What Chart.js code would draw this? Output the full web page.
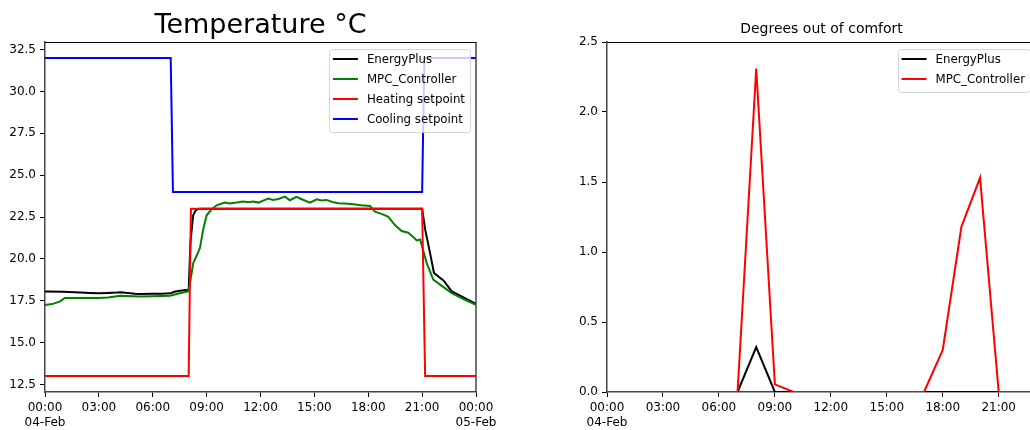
<!DOCTYPE html>
<html lang="en">

<head>
    <meta charset="UTF-8">
    <title>Temperature and comfort</title>
    <script src="https://cdn.jsdelivr.net/npm/chart.js"></script>

    <style>
        html, body {
            margin: 0;
            padding: 0;
            background-color: #ffffff;
        }

        body {
            position: relative;
            width: 1030px;
            height: 430px;
            overflow: hidden;
        }

        canvas {
            position: absolute;
            top: 0;
        }

        #temperatura { left: 0; }
        #conforto { left: 560px; }
    </style>
</head>

<body>
    <canvas id="temperatura" width="500" height="430"></canvas>
    <canvas id="conforto" width="490" height="430"></canvas>
</body>

</html>

<script>
    // left plot, hours counted from 00:00 04-Feb
    var energyPlusHours = [0, 1, 2, 2.5, 3, 3.5, 4, 4.2, 4.5, 5, 5.3, 6, 6.5, 7, 7.2, 7.5, 8.0, 8.1, 8.25, 8.4, 8.6, 9,
        21.0, 21.17, 21.44, 21.66, 22.2, 22.65, 23.3, 24];
    var energyPlusTemp = [18.05, 18.03, 17.99, 17.96, 17.94, 17.96, 17.99, 18.01, 17.97, 17.92, 17.9, 17.91, 17.92, 17.94, 18.04, 18.1, 18.16, 21.0, 22.6, 22.92, 23.0, 23.0,
        23.0, 21.76, 20.36, 19.16, 18.7, 18.06, 17.7, 17.32];

    var mpcHours = [0, 0.4, 0.84, 1.1, 2, 3, 3.5, 4.2, 5.3, 6, 6.96, 7.5, 7.96, 8.04, 8.26, 8.45, 8.63, 8.81, 9.0, 9.28, 9.56,
        10.0, 10.3, 10.67, 11.04, 11.3, 11.6, 11.88, 12.15, 12.43, 12.7, 13.0, 13.36, 13.64, 14.0, 14.3, 14.75, 15.13, 15.4, 15.68,
        16.0, 16.33, 16.7, 17.17, 17.6, 18.1, 18.37, 18.7, 19.1, 19.5, 19.86, 20.23, 20.5, 20.7, 20.88, 20.97,
        21.25, 21.62, 22.0, 22.65, 23.3, 24];
    var mpcTemp = [17.25, 17.3, 17.46, 17.66, 17.66, 17.67, 17.7, 17.79, 17.75, 17.77, 17.8, 17.95, 18.06, 18.35, 19.76, 20.2, 20.66, 21.76, 22.6, 22.96, 23.2,
        23.36, 23.3, 23.36, 23.43, 23.38, 23.42, 23.36, 23.48, 23.6, 23.52, 23.58, 23.72, 23.5, 23.7, 23.56, 23.36, 23.56, 23.48, 23.52,
        23.4, 23.32, 23.3, 23.26, 23.2, 23.16, 22.82, 22.7, 22.52, 22.0, 21.66, 21.56, 21.3, 21.1, 21.16, 20.86,
        19.76, 18.76, 18.46, 17.96, 17.6, 17.26];

    var heatingHours = [0, 8, 8.125, 21, 21.167, 24];
    var heatingSetpoint = [13, 13, 23, 23, 13, 13];
    var coolingHours = [0, 7, 7.125, 21, 21.125, 24];
    var coolingSetpoint = [32, 32, 24, 24, 32, 32];

    // right plot, one value per hour
    var comfortHours = [0, 1, 2, 3, 4, 5, 6, 7, 8, 9, 10, 11, 12, 13, 14, 15, 16, 17, 18, 19, 20, 21, 22, 23];
    var energyPlusOut = [0, 0, 0, 0, 0, 0, 0, 0, 0.32, 0, 0, 0, 0, 0, 0, 0, 0, 0, 0, 0, 0, 0, 0, 0];
    var mpcOut = [0, 0, 0, 0, 0, 0, 0, 0, 2.31, 0.055, 0, 0, 0, 0, 0, 0, 0, 0, 0.3, 1.18, 1.53, 0, 0, 0];

    var hourTicks = [0, 3, 6, 9, 12, 15, 18, 21, 24];
    var dayLabels = { 0: '04-Feb', 24: '05-Feb' };
    var tempTicks = [12.5, 15, 17.5, 20, 22.5, 25, 27.5, 30, 32.5];
    var outTicks = [0, 0.5, 1, 1.5, 2, 2.5];

    var fonte = 'DejaVu Sans';

    function pontos(xs, ys) {
        return xs.map((x, i) => ({ x: x, y: ys[i] }));
    }

    function rotuloHora(v) {
        var h = ('0' + (v % 24)).slice(-2) + ':00';
        return dayLabels[v] ? [h, dayLabels[v]] : h;
    }

    function serie(label, cor, dados, ordem) {
        return {
            label: label,
            data: dados,
            borderColor: cor,
            borderWidth: 2,
            pointRadius: 0,
            tension: 0,
            fill: false,
            order: ordem
        };
    }

    // title, top/right spines and a matplotlib-like legend inside the axes
    var moldura = {
        id: 'moldura',
        afterDraw(chart, args, opts) {
            var ctx = chart.ctx, a = chart.chartArea;
            ctx.save();

            ctx.strokeStyle = '#000';
            ctx.lineWidth = 1;
            ctx.beginPath();
            ctx.moveTo(a.left, Math.round(a.top) + 0.5);
            ctx.lineTo(a.right + 1, Math.round(a.top) + 0.5);
            ctx.stroke();
            ctx.strokeStyle = '#444';
            ctx.lineWidth = 1.5;
            ctx.beginPath();
            ctx.moveTo(a.right, a.top);
            ctx.lineTo(a.right, a.bottom);
            ctx.stroke();

            ctx.fillStyle = '#000';
            ctx.font = opts.titleSize + 'px "' + fonte + '"';
            ctx.textAlign = 'center';
            ctx.textBaseline = 'alphabetic';
            ctx.fillText(opts.title, (a.left + a.right) / 2, a.top - 9);

            ctx.font = '11.8px "' + fonte + '"';
            var sets = chart.data.datasets;
            var w = Math.max(...sets.map(d => ctx.measureText(d.label).width)) + 43;
            var h = sets.length * 20 + 3;
            var x0 = a.right - 6 - w, y0 = a.top + 7;
            ctx.fillStyle = 'rgba(255,255,255,0.8)';
            ctx.strokeStyle = 'rgba(204,204,204,0.8)';
            ctx.lineWidth = 1;
            ctx.beginPath();
            if (ctx.roundRect) {
                ctx.roundRect(Math.round(x0) + 0.5, Math.round(y0) + 0.5, Math.round(w), h, 3);
            } else {
                ctx.rect(Math.round(x0) + 0.5, Math.round(y0) + 0.5, Math.round(w), h);
            }
            ctx.fill();
            ctx.stroke();

            sets.forEach((d, i) => {
                var y = y0 + 10 + i * 20;
                ctx.strokeStyle = d.borderColor;
                ctx.lineWidth = 2;
                ctx.beginPath();
                ctx.moveTo(x0 + 4, y);
                ctx.lineTo(x0 + 29, y);
                ctx.stroke();
                ctx.fillStyle = '#000';
                ctx.textAlign = 'left';
                ctx.textBaseline = 'middle';
                ctx.fillText(d.label, x0 + 38, y + 1);
            });
            ctx.restore();
        }
    };

    function eixoX(max, ticks) {
        return {
            type: 'linear',
            min: 0,
            max: max,
            afterBuildTicks: s => { s.ticks = ticks.map(v => ({ value: v })); },
            afterFit: s => { s.height = 38; },
            ticks: {
                callback: rotuloHora,
                autoSkip: false,
                maxRotation: 0,
                padding: 3,
                color: '#000',
                font: { family: fonte, size: 12, lineHeight: 1.25 }
            },
            grid: { drawOnChartArea: false, tickLength: 5, tickColor: '#000' },
            border: { color: '#444', width: 1.5 }
        };
    }

    function eixoY(min, max, ticks, largura) {
        return {
            type: 'linear',
            min: min,
            max: max,
            afterBuildTicks: s => { s.ticks = ticks.map(v => ({ value: v })); },
            afterFit: s => { s.width = largura; },
            ticks: {
                callback: v => v.toFixed(1),
                autoSkip: false,
                padding: 4,
                color: '#000',
                font: { family: fonte, size: 12 }
            },
            grid: { drawOnChartArea: false, tickLength: 5, tickColor: '#000' },
            border: { color: '#444', width: 1.5 }
        };
    }

    var temperatura = new Chart(document.getElementById('temperatura').getContext('2d'), {
        type: 'line',
        data: {
            datasets: [
                serie('EnergyPlus', '#000000', pontos(energyPlusHours, energyPlusTemp), 4),
                serie('MPC_Controller', '#008000', pontos(mpcHours, mpcTemp), 3),
                serie('Heating setpoint', '#ff0000', pontos(heatingHours, heatingSetpoint), 2),
                serie('Cooling setpoint', '#0000ff', pontos(coolingHours, coolingSetpoint), 1)
            ]
        },
        options: {
            responsive: false,
            animation: false,
            events: [],
            layout: { padding: { top: 42, right: 24, bottom: 0, left: 0 } },
            plugins: {
                legend: { display: false },
                tooltip: { enabled: false },
                moldura: { title: 'Temperature °C', titleSize: 27 }
            },
            scales: {
                x: eixoX(24, hourTicks),
                y: eixoY(12.05, 32.95, tempTicks, 45)
            }
        },
        plugins: [moldura]
    });

    var conforto = new Chart(document.getElementById('conforto').getContext('2d'), {
        type: 'line',
        data: {
            datasets: [
                serie('EnergyPlus', '#000000', pontos(comfortHours, energyPlusOut), 2),
                serie('MPC_Controller', '#ff0000', pontos(comfortHours, mpcOut), 1)
            ]
        },
        options: {
            responsive: false,
            animation: false,
            events: [],
            layout: { padding: { top: 42, right: 14, bottom: 0, left: 0 } },
            plugins: {
                legend: { display: false },
                tooltip: { enabled: false },
                moldura: { title: 'Degrees out of comfort', titleSize: 14 }
            },
            scales: {
                x: eixoX(23, hourTicks.filter(v => v <= 23)),
                y: eixoY(0, 2.5, outTicks, 47)
            }
        },
        plugins: [moldura]
    });
</script>
